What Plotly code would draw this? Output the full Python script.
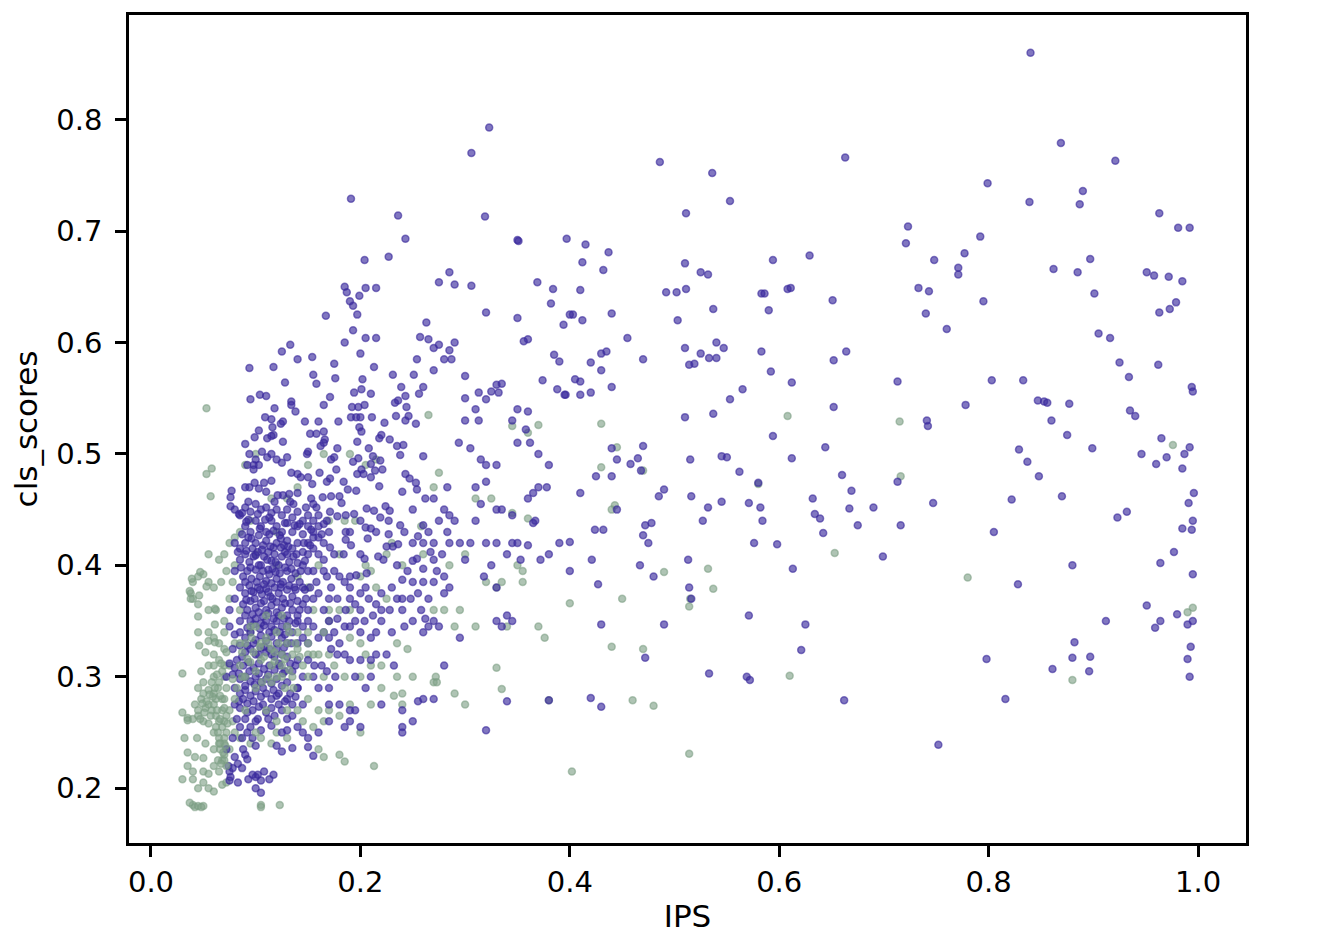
import plotly.graph_objects as go

purple = [
# right side
.84,.86,.869,.779,.921,.763,.799,.743,.89,.736,.839,.726,.887,.724,.792,.695,.963,.716,.981,.703,.992,.703,.723,.704,.721,.689,
.897,.675,.885,.663,.862,.666,.951,.663,.958,.66,.972,.659,.985,.655,.901,.644,.795,.637,.979,.636,.973,.63,.963,.627,.905,.608,.916,.604,
.777,.68,.771,.667,.771,.661,.748,.674,.733,.649,.743,.646,.74,.626,.76,.612,.925,.582,.934,.569,.962,.58,.994,.56,.995,.556,.803,.566,.833,.566,.778,.544,.847,.548,.853,.547,.856,.546,.877,.545,.935,.539,.94,.534,
.86,.53,.875,.517,.899,.505,.829,.504,.837,.493,.946,.5,.965,.514,.97,.497,.96,.491,.985,.487,.992,.506,.987,.5,.848,.48,.87,.462,.822,.459,.996,.465,.991,.456,.985,.433,.994,.432,.995,.44,.923,.443,.932,.448,.805,.43,.828,.383,.88,.4,.977,.412,.964,.402,.995,.392,.951,.364,.959,.344,.964,.35,.98,.356,.99,.347,.995,.35,.912,.35,.882,.331,.861,.307,.88,.317,.897,.318,.896,.305,.798,.316,.816,.28,.99,.316,.993,.327,.992,.3,.752,.239,
.747,.456,.742,.525,.741,.53,.713,.565,.713,.475,.716,.436,.699,.408,
# middle
.663,.766,.536,.752,.486,.762,.553,.727,.511,.716,.323,.793,.306,.77,.319,.713,.191,.729,.236,.714,.243,.693,.227,.677,.204,.674,
.651,.638,.629,.678,.594,.674,.608,.648,.611,.649,.583,.644,.586,.644,.59,.629,.583,.592,.592,.574,.612,.564,.652,.584,.664,.592,.652,.542,.594,.516,.612,.496,.644,.506,.66,.481,.669,.467,.667,.451,.675,.436,.69,.452,.632,.46,.634,.446,.639,.442,.642,.429,.58,.474,.582,.452,.584,.44,.571,.456,.562,.484,.55,.497,.576,.42,.598,.419,.613,.397,.625,.347,.621,.324,.662,.279,.569,.3,.572,.297,.533,.303,.571,.355,
.51,.671,.511,.648,.525,.663,.532,.661,.492,.645,.502,.645,.537,.63,.519,.581,.514,.58,.525,.59,.533,.586,.54,.586,.54,.6,.547,.595,.51,.595,.503,.62,.553,.549,.565,.558,.51,.533,.537,.536,.515,.495,.545,.498,.516,.462,.532,.452,.545,.457,.527,.44,.513,.405,.514,.38,.472,.317,.49,.347,.516,.37,
.397,.693,.415,.688,.412,.672,.432,.665,.437,.681,.41,.647,.403,.625,.44,.626,.412,.62,.43,.59,.42,.582,.435,.592,.455,.604,.47,.585,.43,.575,.42,.555,.41,.565,.405,.567,.396,.553,.41,.553,.44,.56,.465,.496,.458,.491,.468,.485,.44,.48,.425,.48,.41,.465,.49,.468,.485,.462,.47,.507,.445,.495,.44,.505,.445,.45,.432,.432,.424,.432,.421,.405,.427,.383,.4,.421,.39,.42,.4,.395,.38,.41,.43,.347,.47,.427,.472,.436,.478,.438,.475,.42,.467,.4,.48,.39,.42,.281,.43,.273,.38,.279,
.369,.654,.384,.648,.382,.635,.394,.616,.4,.625,.35,.692,.351,.691,.35,.622,.36,.603,.356,.601,.385,.589,.39,.583,.374,.566,.388,.558,.395,.553,.325,.556,.33,.562,.332,.555,.335,.563,.32,.549,.3,.55,.313,.555,.35,.54,.36,.538,.345,.53,.35,.51,.358,.522,.362,.51,.37,.5,.38,.49,.37,.47,.378,.47,.365,.465,.36,.46,.367,.44,.365,.438,.372,.405,.36,.418,.34,.41,.345,.445,.33,.45,.335,.45,.33,.42,.32,.42,.325,.4,.32,.49,.33,.49,.315,.495,.32,.475,.31,.47,.315,.455,.31,.44,.3,.405,.305,.42,.33,.38,.318,.39,.345,.42,.35,.42,.353,.405,.33,.35,.34,.355,.345,.35,.335,.345,.32,.252,.34,.278,.32,.627,.306,.651,.313,.53,.3,.53,.294,.51,.305,.505,.31,.54,.3,.57,
.285,.663,.275,.654,.29,.652,.263,.618,.285,.593,.29,.6,.275,.598,.27,.595,.265,.603,.257,.605,.28,.585,.287,.585,.27,.575,
.205,.649,.199,.642,.185,.65,.187,.645,.19,.637,.193,.633,.197,.625,.167,.624,.185,.6,.193,.611,.205,.604,.215,.604,.215,.649,
# upper cluster
.125,.592,.133,.598,.14,.585,.154,.587,.2,.59,.094,.577,.117,.578,.175,.581,.213,.578,.155,.571,.176,.568,.202,.567,.128,.564,.158,.563,.231,.571,.251,.571,.254,.585,.239,.56,.26,.56,.201,.558,.194,.555,.21,.554,.104,.553,.11,.552,.095,.549,.171,.551,.134,.547,.165,.544,.134,.544,.118,.541,.138,.538,.192,.542,.198,.542,.204,.544,.243,.552,.236,.548,.233,.546,.256,.554,.244,.542,.246,.534,.234,.534,.243,.53,.253,.527,.223,.528,.211,.533,.191,.533,.196,.533,.2,.533,.179,.529,.16,.529,.147,.529,.109,.533,.115,.531,.126,.529,.124,.527,.116,.524,.103,.521,.117,.517,.115,.516,.099,.515,.111,.514,.126,.511,.09,.509,.152,.518,.158,.518,.165,.52,.199,.524,.201,.52,.166,.513,.165,.51,.162,.507,.197,.511,.22,.517,.218,.514,.228,.513,.235,.507,.241,.508,.208,.505,.238,.499,.26,.498,.212,.498,.219,.494,.21,.491,.221,.486,.214,.485,.243,.482,.247,.478,.253,.474,.254,.468,.24,.466,.218,.471,.21,.479,.201,.486,.197,.482,.203,.482,.198,.496,.193,.493,.178,.505,
.149,.5,.15,.502,.111,.497,.106,.502,.094,.5,.1,.495,.092,.49,.098,.49,.103,.49,.098,.486,.115,.5,.12,.495,.13,.497,.125,.492,.134,.483,.14,.482,.143,.479,.15,.479,.154,.473,.161,.483,.172,.495,.175,.497,.177,.486,.171,.478,.168,.475,.184,.475,.188,.468,.196,.467,.14,.465,.132,.464,.126,.463,.121,.463,.133,.457,.153,.46,.155,.455,.164,.461,.172,.462,.18,.462,.182,.456,
.103,.469,.11,.466,.115,.476,.108,.474,.099,.474,.094,.47,.09,.47,.077,.467,.076,.461,.076,.453,.093,.457,.084,.446,.091,.439,.171,.448,.178,.444,.186,.445,.194,.446,.2,.44,.206,.451,.213,.449,.224,.453,.228,.449,.219,.443,.227,.44,.238,.436,.242,.43,.26,.436,.255,.426,.205,.434,.21,.433,.207,.424,.186,.43,.19,.43,.186,.423,.191,.418,.227,.428,.225,.417,.231,.417,.236,.419,.184,.41,.2,.41,.204,.406,.217,.408,.254,.406,.25,.404,.267,.412,.26,.397,.206,.393,.196,.391,.24,.387,
.27,.46,.28,.45,.285,.445,.275,.44,.283,.47,.265,.43,.27,.42,.278,.41,.25,.45,.262,.46,
.28,.39,.27,.385,.255,.375,.265,.37,.285,.38,.25,.35,.27,.35,.265,.345,.275,.345,.24,.36,.23,.34,.22,.35,.215,.32,.225,.32,.21,.315,.232,.31,.26,.34,.295,.335,.28,.31,.27,.28,.26,.28,.255,.278,.25,.26,.24,.27,.205,.29,.195,.27,.19,.27,.17,.26,.18,.275,.17,.29,.16,.29,
.22,.375,.23,.38,.215,.365,.2,.36,.205,.38,.19,.37,.195,.35,.185,.345,.2,.34,.21,.335,.175,.34,.18,.33,.165,.34,.16,.335,.17,.335,.155,.345,.15,.33,.175,.395,.18,.39,.17,.37,.16,.375,.165,.36,.155,.37,.15,.36,.145,.38,.175,.41,.165,.42,.16,.41,.155,.415,.15,.42,.17,.43,.16,.435,.155,.43,.165,.405,.19,.39,
# dense core
.08,.45,.085,.445,.09,.452,.095,.448,.1,.455,.105,.45,.11,.452,.115,.447,.12,.45,.125,.445,.13,.45,.135,.443,.14,.448,.145,.44,.15,.445,.155,.44,.16,.445,.165,.437,
.09,.435,.095,.43,.1,.44,.105,.435,.11,.43,.115,.44,.12,.435,.125,.43,.13,.438,.135,.43,.14,.435,.145,.428,.15,.435,.155,.425,.16,.425,
.08,.42,.085,.415,.09,.42,.093,.425,.097,.415,.1,.42,.103,.427,.107,.418,.11,.422,.113,.428,.117,.416,.12,.42,.123,.427,.127,.418,.13,.422,.135,.415,.14,.42,.145,.412,.15,.41,
.085,.405,.09,.41,.094,.403,.098,.408,.102,.412,.105,.4,.108,.408,.112,.412,.115,.404,.118,.41,.122,.4,.125,.408,.128,.412,.132,.403,.136,.408,.14,.402,.145,.4,.15,.395,
.08,.395,.088,.39,.092,.395,.096,.388,.1,.396,.104,.39,.107,.395,.11,.386,.113,.392,.116,.397,.12,.388,.123,.393,.126,.385,.13,.395,.134,.388,.138,.393,.142,.385,.147,.378,
.085,.38,.09,.375,.094,.382,.098,.376,.102,.38,.106,.374,.11,.379,.114,.372,.118,.38,.122,.375,.126,.37,.13,.378,.135,.372,.14,.368,.145,.365,.15,.35,.14,.35,.145,.345,
.08,.37,.088,.365,.095,.368,.1,.362,.105,.366,.11,.36,.115,.364,.12,.358,.125,.362,.13,.355,.135,.36,.14,.355,
.075,.36,.085,.35,.09,.355,.095,.35,.1,.352,.105,.348,.11,.35,.115,.345,.12,.35,.125,.345,.13,.345,.135,.34,
.075,.345,.08,.338,.085,.34,.09,.335,.095,.34,.1,.333,.105,.337,.11,.332,.115,.336,.12,.33,.125,.335,.13,.33,.14,.33,.145,.335,
.078,.325,.085,.328,.09,.322,.095,.325,.1,.32,.105,.326,.11,.322,.115,.32,.12,.325,.125,.32,.13,.318,.14,.315,.15,.315,
.075,.312,.082,.315,.088,.31,.093,.313,.098,.308,.103,.312,.108,.307,.113,.31,.118,.306,.123,.31,.128,.305,.135,.305,.145,.3,.155,.3,
.072,.3,.078,.302,.085,.298,.09,.3,.095,.296,.1,.3,.105,.295,.11,.298,.115,.294,.12,.298,.125,.292,.13,.295,.14,.29,
.08,.29,.085,.285,.09,.288,.095,.283,.1,.287,.105,.282,.11,.285,.115,.28,.12,.283,.13,.28,.135,.275,.145,.275,
.08,.275,.085,.272,.092,.276,.097,.27,.103,.273,.11,.268,.115,.272,.125,.27,.13,.262,.14,.255,.15,.245,.16,.25,
.09,.262,.095,.255,.1,.26,.105,.252,.115,.256,.125,.25,.12,.238,.125,.233,.135,.236,.155,.229,.15,.237,.17,.275,
.072,.235,.074,.22,.075,.215,.076,.21,.088,.235,.09,.23,.092,.226,.1,.21,.102,.212,.117,.212,.113,.208,.083,.205,.075,.207,.1,.2,.105,.196,.14,.29,.145,.25,
# second pass through the core, irregular
.087,.447,.093,.441,.102,.446,.113,.443,.118,.457,.128,.438,.136,.455,.142,.437,.148,.452,.153,.432,.158,.452,.168,.44,.087,.428,.096,.424,.104,.433,.109,.441,.117,.431,.124,.424,.131,.417,.137,.436,.146,.42,.152,.418,.163,.428,.171,.416,
.083,.412,.091,.413,.1,.409,.106,.414,.111,.405,.114,.417,.119,.403,.124,.416,.13,.41,.134,.397,.139,.41,.147,.404,.155,.395,.168,.39,.086,.398,.09,.385,.095,.398,.101,.385,.103,.4,.108,.383,.112,.396,.115,.384,.119,.394,.124,.383,.128,.398,.132,.382,.137,.38,.143,.395,.152,.38,.158,.385,
.091,.369,.096,.377,.099,.37,.104,.378,.108,.368,.112,.376,.116,.37,.12,.367,.124,.38,.128,.366,.133,.366,.138,.378,.142,.36,.148,.37,.092,.36,.097,.356,.103,.358,.107,.354,.112,.357,.117,.352,.122,.355,.127,.352,.132,.35,.138,.348,
.092,.344,.098,.347,.104,.343,.108,.346,.113,.34,.118,.342,.123,.34,.128,.338,.134,.33,.087,.318,.092,.328,.098,.33,.103,.32,.108,.327,.113,.325,.118,.318,.122,.312,.127,.326,.133,.312,.138,.31,
.08,.308,.084,.303,.09,.292,.094,.305,.099,.293,.103,.303,.107,.29,.112,.302,.117,.288,.122,.285,.126,.303,.133,.285,.138,.282,.084,.278,.088,.28,.092,.268,.098,.278,.102,.262,.107,.275,.112,.262,.118,.265,.122,.275,.128,.278,.135,.265,
.082,.262,.085,.255,.087,.245,.092,.25,.097,.245,.1,.238,.078,.245,.08,.228,.078,.218,.083,.222,.087,.218,.093,.208,.097,.212,.105,.207,.108,.215,.13,.252,
.165,.395,.172,.38,.178,.37,.185,.385,.19,.38,.195,.365,.2,.375,.208,.37,.212,.355,.22,.36,.228,.36,.235,.37,.242,.345,.248,.37,.258,.36,.262,.352,.17,.35,.178,.352,.186,.36,.19,.345,.204,.35,.215,.34,.172,.325,.178,.32,.185,.32,.19,.315,.2,.315,.156,.31,.163,.31,.168,.305,.176,.3,.195,.3,.21,.3,.22,.275,.24,.255,.24,.25,.185,.255,.19,.26,.2,.255,
.215,.43,.222,.405,.235,.4,.245,.395,.25,.42,.26,.42,.27,.405,.273,.395,.283,.43,.29,.44,.295,.42,.285,.42,.28,.375,.26,.385,.25,.385,.24,.37,
]

green_back = [
.053,.541,.053,.482,.058,.487,.057,.462,.608,.534,.715,.529,.716,.48,.58,.473,.653,.411,.78,.389,.532,.397,.515,.37,.514,.363,.537,.379,.47,.485,.445,.506,.443,.454,.43,.527,.43,.488,.44,.45,.37,.526,.36,.519,.345,.525,.36,.442,.345,.447,.31,.46,.325,.46,.275,.483,.27,.47,.265,.535,.49,.394,.45,.37,.47,.325,.44,.327,.46,.279,.48,.274,.514,.231,.402,.215,.38,.279,.61,.301,.88,.297,.976,.508,.995,.362,.99,.358,.34,.345,.37,.345,.376,.335,.33,.308,.335,.289,.29,.285,.3,.275,.27,.295,.272,.3,.273,.295,.4,.366,.32,.385,.335,.385,.33,.38,.355,.385,.35,.4,.355,.395,.3,.41,.285,.4,.27,.36,.28,.36,.295,.36,.29,.345,.31,.345,.26,.41,.258,.435,.25,.3,.24,.275,.22,.29,.213,.22,.2,.25,.21,.275,.24,.285,.232,.283,.235,.3,.16,.235,.165,.228,.18,.23,.185,.224,.123,.185,.105,.185,.105,.183,
.04,.185,.037,.187,.042,.183,.045,.184,.05,.184,.048,.183,.03,.208,.04,.208,.045,.2,.055,.2,.05,.205,.06,.197,.068,.203,.072,.205,.035,.22,.04,.215,.05,.215,.055,.213,.06,.22,.065,.215,.035,.232,.042,.228,.05,.227,.06,.235,.032,.245,.044,.245,.052,.24,.068,.225,.07,.23,.03,.268,.035,.263,.04,.262,.045,.265,.05,.26,.055,.258,.06,.25,.035,.261,.03,.303,
.042,.275,.048,.28,.052,.272,.058,.27,.062,.265,.045,.29,.05,.295,.055,.288,.06,.285,.048,.305,.055,.31,.06,.3,.065,.295,.052,.322,.06,.32,.065,.315,.07,.31,.055,.34,.06,.335,.065,.33,.07,.325,.055,.36,.062,.36,.07,.35,.04,.37,.038,.375,.04,.385,.045,.39,.05,.392,.038,.37,.045,.365,.055,.385,.06,.38,.055,.41,.065,.405,.072,.395,.08,.4,.08,.425,.075,.42,.085,.43,.095,.44,.09,.49,.1,.5,.13,.46,.15,.49,.165,.5,.19,.5,.205,.49,.215,.495,.195,.44,.18,.41,.21,.395,.225,.41,.23,.42,
.07,.26,.072,.25,.065,.24,.07,.24,.075,.235,.08,.25,.085,.245,.095,.24,.105,.245,.115,.24,.12,.25,.13,.245,.145,.26,.155,.255,.165,.26,.17,.27,.18,.265,.19,.275,.2,.3,.205,.32,.22,.31,.235,.33,.245,.325,.21,.31,.2,.33,.19,.335,.185,.3,.175,.31,.165,.3,.16,.32,.17,.32,.18,.36,.19,.36,.2,.39,.15,.34,.17,.35,.15,.32,
.064,.29,.068,.28,.075,.27,.078,.26,.07,.3,.075,.31,.08,.33,.07,.34,.075,.37,.085,.36,.095,.34,
.039,.388,.047,.394,.053,.381,.067,.385,.037,.377,.046,.373,.061,.361,.045,.354,.045,.34,.046,.328,.061,.347,.055,.332,.061,.331,.12,.43,.07,.41,.078,.385,.1,.41,.12,.4,.14,.39,.16,.4,.17,.44,.14,.47,.115,.46,.185,.44,.205,.4,.215,.38,.225,.37,.24,.4,.15,.38,.155,.36,.17,.36,
]

green_front = [
.065,.26,.068,.27,.07,.28,.062,.28,.072,.29,.068,.305,.06,.31,.065,.245,.07,.245,.068,.255,.072,.265,.066,.235,.07,.225,.072,.22,.064,.225,.055,.275,.06,.275,.05,.285,.045,.27,
.09,.33,.1,.345,.11,.335,.12,.34,.125,.32,.13,.33,.115,.325,.105,.33,.095,.345,.085,.33,.105,.315,.115,.31,.125,.31,.135,.32,.14,.325,.145,.31,.135,.3,.125,.3,.115,.295,.1,.29,.09,.3,.085,.31,.11,.355,.125,.355,.13,.345,.14,.34,.12,.3,.13,.27,.11,.27,.1,.25,.12,.26,.09,.27,.08,.28,.14,.27,.15,.28,.16,.27,.165,.34,.155,.32,.15,.3,
.047,.262,.051,.268,.053,.278,.057,.265,.059,.282,.063,.27,.066,.262,.049,.276,.056,.284,.061,.29,.066,.283,.07,.272,.073,.258,.064,.25,.066,.24,.069,.232,.062,.255,.071,.238,.067,.222,.058,.295,.063,.302,.067,.312,.072,.322,.078,.298,.082,.29,.087,.3,.095,.313,.1,.305,.104,.327,.108,.318,.112,.33,.118,.322,.122,.33,.128,.316,.132,.306,.118,.314,.112,.3,.106,.295,.098,.322,.092,.316,.087,.322,.096,.335,.132,.34,.138,.33,.142,.318,.128,.29,.136,.29,.15,.33,
]

purple_x, purple_y = purple[::2], purple[1::2]
green_back_x, green_back_y = green_back[::2], green_back[1::2]
green_front_x, green_front_y = green_front[::2], green_front[1::2]

x_ticks = [0.0, 0.2, 0.4, 0.6, 0.8, 1.0]
y_ticks = [0.2, 0.3, 0.4, 0.5, 0.6, 0.7, 0.8]

def marks(x, y, fill, edge):
    return go.Scatter(x=x, y=y, mode="markers", showlegend=False,
                      marker=dict(size=7, color=fill, line=dict(width=1.5, color=edge)))

GREEN_FILL, GREEN_EDGE = "rgba(132,164,140,0.65)", "rgba(122,156,130,0.55)"
PURPLE_FILL, PURPLE_EDGE = "rgba(62,46,160,0.65)", "rgba(56,40,155,0.6)"

fig = go.Figure([marks(green_back_x, green_back_y, GREEN_FILL, GREEN_EDGE),
                 marks(purple_x, purple_y, PURPLE_FILL, PURPLE_EDGE),
                 marks(green_front_x, green_front_y, GREEN_FILL, GREEN_EDGE)])

axis = dict(showgrid=False, zeroline=False, showline=True, mirror=True, linecolor="black", linewidth=2.5,
            ticks="outside", ticklen=11, tickwidth=2.5, tickcolor="black",
            tickfont=dict(family="DejaVu Sans", size=29, color="black"))
fig.update_layout(
    width=1329, height=943, paper_bgcolor="white", plot_bgcolor="white",
    margin=dict(l=121, r=91, t=4, b=108), autosize=False,
    font=dict(family="DejaVu Sans", color="black"),
    xaxis=dict(axis, range=[-0.021, 1.0458], tickvals=x_ticks, ticktext=[f"{v:.1f}" for v in x_ticks],
               title=dict(text="IPS", font=dict(size=31), standoff=8)),
    yaxis=dict(axis, range=[0.1508, 0.8939], tickvals=y_ticks, ticktext=[f"{v:.1f}" for v in y_ticks],
               ticklabelstandoff=7,
               title=dict(text="cls_scores", font=dict(size=31), standoff=10)),
)
fig.write_html("out.html")
